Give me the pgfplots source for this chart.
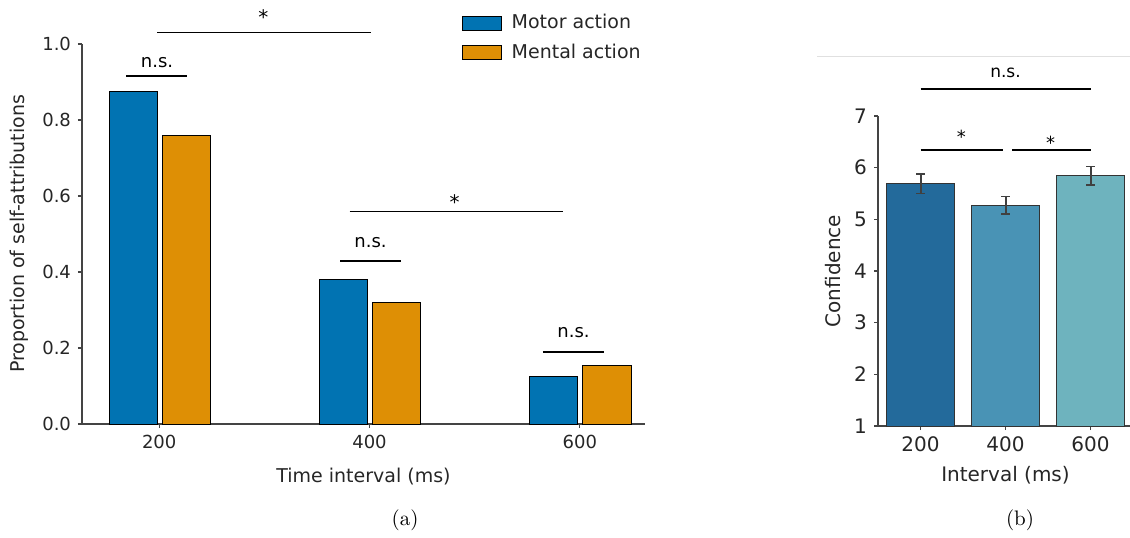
\documentclass[border=0pt]{standalone}
\usepackage{fontspec}
\usepackage{pgfplots}
\pgfplotsset{compat=1.18}
\newfontfamily\dv{DejaVu Sans}

\definecolor{motor}{HTML}{0173B2}
\definecolor{mental}{HTML}{DE8F05}
\definecolor{cA}{HTML}{236A9B}
\definecolor{cB}{HTML}{4993B5}
\definecolor{cC}{HTML}{6EB3BE}
\definecolor{spine}{HTML}{444444}

\pgfplotsset{
  panel/.style={
    scale only axis,
    axis lines*=left,
    axis line style={spine, line width=0.6pt},
    tick align=outside,
    major tick length=2pt,
    tick style={spine, line width=0.6pt},
    clip=false,
    /pgf/number format/assume math mode=true,
    xtick={0,1,2},
    xticklabels={200,400,600},
  },
}
\tikzset{sig/.style={black, line width=0.7pt}}

\begin{document}
\begin{tikzpicture}
\useasboundingbox (0,0) rectangle (565pt,268.5pt);

% (a) self-attributions
\begin{axis}[
  panel,
  at={(41pt,56.5pt)}, anchor=south west,
  width=281.5pt, height=190pt,
  xmin=-0.367, xmax=2.31,
  ymin=0, ymax=1,
  ytick={0,0.2,...,1.0},
  yticklabel style={/pgf/number format/fixed, /pgf/number format/fixed zerofill, /pgf/number format/precision=1},
  ticklabel style={font=\dv\fontsize{9}{10}\selectfont, text=black!85},
  xlabel={Time interval (ms)},
  xlabel style={yshift=-3pt},
  ylabel={Proportion of self-attributions},
  label style={font=\dv\fontsize{9.5}{11}\selectfont, text=black!85},
  ybar, bar width=0.229,
  legend style={draw=none, fill=none, at={(0.663,1.10)}, anchor=north west,
    font=\dv\fontsize{9.5}{11}\selectfont, text=black!85,
    row sep=2pt, /tikz/every odd column/.append style={column sep=3pt}},
  legend cell align=left,
]
\addplot[fill=motor, draw=black, line width=0.5pt, bar shift=-0.124,
  legend image code/.code={\draw[fill=motor, draw=black, line width=0.5pt] (0pt,-3.5pt) rectangle (19.5pt,3.5pt);}]
  coordinates {(0,0.876) (1,0.379) (2,0.124)};
\addplot[fill=mental, draw=black, line width=0.5pt, bar shift=0.129,
  legend image code/.code={\draw[fill=mental, draw=black, line width=0.5pt] (0pt,-3.5pt) rectangle (19.5pt,3.5pt);}]
  coordinates {(0,0.760) (1,0.321) (2,0.153)};
\legend{Motor action, Mental action}

\draw[sig] (axis cs:-0.01,1.03) -- (axis cs:1.005,1.03);
\node[font=\dv\fontsize{10}{10}\selectfont] at (axis cs:0.495,1.07) {*};
\draw[sig] (axis cs:-0.157,0.916) -- (axis cs:0.133,0.916);
\node[font=\dv\fontsize{9}{10}\selectfont] at (axis cs:-0.01,0.95) {n.s.};
\draw[sig] (axis cs:0.905,0.56) -- (axis cs:1.919,0.56);
\node[font=\dv\fontsize{10}{10}\selectfont] at (axis cs:1.405,0.585) {*};
\draw[sig] (axis cs:0.862,0.429) -- (axis cs:1.148,0.429);
\node[font=\dv\fontsize{9}{10}\selectfont] at (axis cs:1.005,0.477) {n.s.};
\draw[sig] (axis cs:1.824,0.19) -- (axis cs:2.114,0.19);
\node[font=\dv\fontsize{9}{10}\selectfont] at (axis cs:1.97,0.24) {n.s.};
\end{axis}

% (b) confidence
\begin{axis}[
  panel,
  at={(439pt,55.5pt)}, anchor=south west,
  width=127.5pt, height=155pt,
  xmin=-0.5, xmax=2.5,
  ymin=1, ymax=7,
  ytick={1,2,...,7},
  ticklabel style={font=\dv\fontsize{10}{11}\selectfont, text=black!85},
  xlabel={Interval (ms)},
  ylabel={Confidence},
  label style={font=\dv\fontsize{10}{12}\selectfont, text=black!85},
  ybar, bar width=0.8, bar shift=0pt,
]
\addplot[fill=cA, draw=black!80, line width=0.5pt,
  error bars/.cd, y dir=both, y explicit,
  error bar style={black!75, line width=1pt},
  error mark options={rotate=90, mark size=2.2pt, black!75, line width=0.8pt}]
  coordinates {(0,5.69) +- (0,0.19)};
\addplot[fill=cB, draw=black!80, line width=0.5pt,
  error bars/.cd, y dir=both, y explicit,
  error bar style={black!75, line width=1pt},
  error mark options={rotate=90, mark size=2.2pt, black!75, line width=0.8pt}]
  coordinates {(1,5.27) +- (0,0.17)};
\addplot[fill=cC, draw=black!80, line width=0.5pt,
  error bars/.cd, y dir=both, y explicit,
  error bar style={black!75, line width=1pt},
  error mark options={rotate=90, mark size=2.2pt, black!75, line width=0.8pt}]
  coordinates {(2,5.84) +- (0,0.18)};

\draw[sig] (axis cs:0,7.52) -- (axis cs:2,7.52);
\node[font=\dv\fontsize{8.5}{10}\selectfont] at (axis cs:1,7.84) {n.s.};
\draw[sig] (axis cs:0,6.34) -- (axis cs:0.965,6.34);
\node[font=\dv\fontsize{9}{10}\selectfont] at (axis cs:0.48,6.6) {*};
\draw[sig] (axis cs:1.08,6.34) -- (axis cs:2,6.34);
\node[font=\dv\fontsize{9}{10}\selectfont] at (axis cs:1.53,6.49) {*};
\end{axis}

\draw[black!12, line width=0.5pt] (408.5pt,240pt) -- (565pt,240pt);
\node[font=\fontsize{10.5}{12}\selectfont] at (202.5pt,8.5pt) {(a)};
\node[font=\fontsize{10.5}{12}\selectfont] at (510pt,8.5pt) {(b)};
\end{tikzpicture}
\end{document}
